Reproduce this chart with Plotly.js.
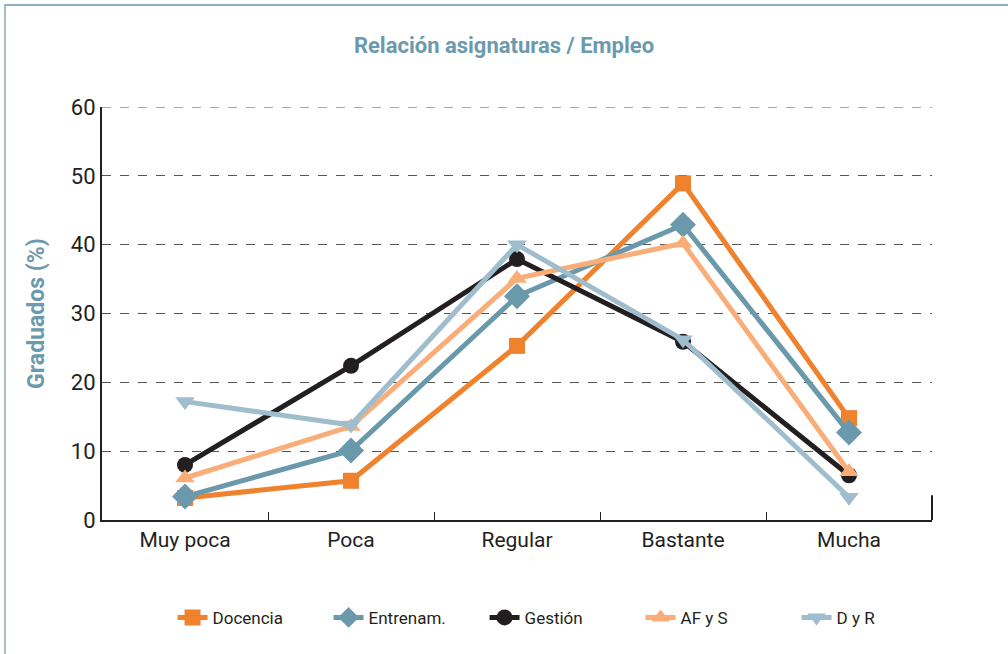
<!DOCTYPE html>
<html>
<head>
<meta charset="utf-8">
<script src="https://cdn.plot.ly/plotly-3.0.1.min.js"></script>
<style>
  body { margin: 0; background: #fff; }
  #frame { position: absolute; left: 4px; top: 4px; width: 1010px; height: 660px;
           border-top: 2px solid #8fb0c4; border-left: 2px solid #a3bfd0; }
  #plotDiv { position: absolute; left: 0; top: 0; width: 1008px; height: 654px; }
</style>
</head>
<body>
<div id="frame"></div>
<div id="plotDiv"></div>
<script>
// Relación asignaturas / Empleo, % de graduados
const categories = ["Muy poca", "Poca", "Regular", "Bastante", "Mucha"];
const docencia = [3.2, 5.7, 25.3, 48.9, 14.8];
const entrenam = [3.4, 10.1, 32.5, 42.9, 12.7];
const gestion = [8.0, 22.4, 37.9, 25.9, 6.5];
const afys = [6.1, 13.6, 35.1, 40.2, 7.0];
const dyr = [17.2, 13.8, 40.0, 26.2, 3.3];

const font = "Liberation Sans Narrow, Roboto, sans-serif";

function serie(name, y, color, symbol, size) {
  return {
    x: categories,
    y: y,
    type: "scatter",
    mode: "lines+markers",
    name: name,
    line: { color: color, width: 5 },
    marker: { color: color, symbol: symbol, size: size },
  };
}

const traces = [
  serie("Docencia", docencia, "#f0812d", "square", 16),
  serie("Entrenam.", entrenam, "#6a99ac", "diamond", 20),
  serie("Gestión", gestion, "#231f20", "circle", 16),
  serie("AF y S", afys, "#f9ae79", "triangle-up", 17),
  serie("D y R", dyr, "#9fbdcd", "triangle-down", 17),
];

const layout = {
  width: 1008,
  height: 654,
  margin: { l: 102, r: 76, t: 107, b: 134 },
  paper_bgcolor: "rgba(0,0,0,0)",
  plot_bgcolor: "rgba(0,0,0,0)",
  font: { family: font, color: "#231f20" },
  title: {
    text: "<b>Relación asignaturas / Empleo</b>",
    font: { family: font, size: 22, color: "#6b9aae" },
    x: 0.5,
    xanchor: "center",
    y: 0.93,
    yanchor: "middle",
  },
  xaxis: {
    type: "category",
    range: [-0.5, 4.5],
    tickson: "boundaries",
    ticks: "inside",
    ticklen: 8,
    tickcolor: "#231f20",
    showline: true,
    linecolor: "#231f20",
    linewidth: 2,
    showgrid: false,
    tickfont: { family: font, size: 21, color: "#231f20" },
    fixedrange: true,
  },
  yaxis: {
    range: [0, 60],
    tickvals: [0, 10, 20, 30, 40, 50, 60],
    showline: true,
    linecolor: "#231f20",
    linewidth: 2,
    showgrid: true,
    gridcolor: "#555",
    griddash: "dash",
    gridwidth: 1,
    zeroline: false,
    ticks: "",
    tickfont: { family: font, size: 22, color: "#231f20" },
    title: {
      text: "<b>Graduados (%)</b>",
      font: { family: font, size: 23, color: "#6b9aae" },
      standoff: 20,
    },
  },
  legend: {
    orientation: "h",
    x: 0.085,
    xanchor: "left",
    y: -0.237,
    yanchor: "middle",
    font: { family: font, size: 17, color: "#231f20" },
    entrywidth: 111,
    entrywidthmode: "pixels",
  },
  shapes: [
    {
      // top gridline (Plotly skips the grid line at the range edge)
      type: "line",
      xref: "paper",
      yref: "y",
      x0: 0,
      x1: 1,
      y0: 60,
      y1: 60,
      line: { color: "#555", width: 1, dash: "dash" },
    },
    {
      type: "line",
      xref: "paper",
      yref: "y",
      x0: 1,
      x1: 1,
      y0: 0,
      y1: 3.6,
      line: { color: "#231f20", width: 2 },
    },
  ],
};

Plotly.newPlot("plotDiv", traces, layout, { displayModeBar: false });
</script>
</body>
</html>
